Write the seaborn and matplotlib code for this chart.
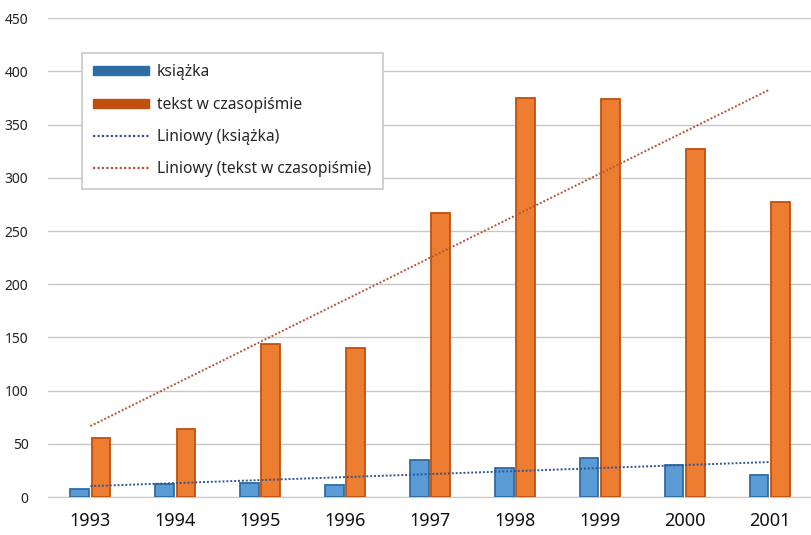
import matplotlib.pyplot as plt
import numpy as np
import pandas as pd
import seaborn as sns
from matplotlib.lines import Line2D
from matplotlib.patches import Patch

# Data
years = ['1993', '1994', '1995', '1996', '1997', '1998', '1999', '2000', '2001']
ksiazka = [8, 12, 13, 11, 35, 27, 37, 30, 21]
tekst = [55, 64, 144, 140, 267, 375, 374, 327, 277]
series_names = ['książka', 'tekst w czasopiśmie']

df = pd.DataFrame({
    'year': years * 2,
    'value': ksiazka + tekst,
    'series': [series_names[0]] * len(years) + [series_names[1]] * len(years),
})

blue, blue_edge, blue_trend = '#5B9BD5', '#2E6DA4', '#2F5597'
orange, orange_edge, orange_trend = '#ED7D31', '#C0500F', '#B5553A'

sns.set_style('white')
plt.rcParams['font.family'] = ['Noto Sans', 'DejaVu Sans']

fig = plt.figure(figsize=(8.12, 5.35), dpi=100)
ax = fig.add_axes([0.059, 0.071, 0.941, 0.895])

sns.barplot(data=df, x='year', y='value', hue='series', palette=[blue, orange],
            saturation=1, width=0.5, gap=0.12, ax=ax, legend=False, zorder=3)
for bar, fc in zip(ax.patches, [blue_edge] * 9 + [orange_edge] * 9):
    bar.set_edgecolor(fc)
    bar.set_linewidth(1.3)

# linear trend lines (like Excel "Liniowy")
x = np.arange(len(years))
for vals, col in [(ksiazka, blue_trend), (tekst, orange_trend)]:
    k, b = np.polyfit(x + 1, vals, 1)
    ax.plot(x, k * (x + 1) + b, linestyle=(0, (1, 1)), color=col, lw=1.4, zorder=4)

ax.set_ylim(0, 450)
ax.set_xlim(-0.5, len(years) - 0.5)
ax.set_yticks(range(0, 451, 50))
ax.yaxis.grid(True, color='#C8C8C8', lw=1)
ax.set_axisbelow(True)
sns.despine(ax=ax, left=True, top=True, right=True)
ax.spines['bottom'].set_color('#C8C8C8')
ax.tick_params(axis='y', labelsize=10, length=0, pad=14, colors='#222222')
ax.tick_params(axis='x', labelsize=13, length=0, pad=11, colors='#111111')
ax.set_xlabel('')
ax.set_ylabel('')

handles = [
    Patch(facecolor='#2E6DA4', edgecolor='#2E6DA4'),
    Patch(facecolor='#C0500F', edgecolor='#C0500F'),
    Line2D([0], [0], color=blue_trend, linestyle=(0, (1, 1)), lw=1.6),
    Line2D([0], [0], color=orange_trend, linestyle=(0, (1, 1)), lw=1.6),
]
labels = ['książka', 'tekst w czasopiśmie', 'Liniowy (książka)', 'Liniowy (tekst w czasopiśmie)']
leg = ax.legend(handles, labels, loc='upper left', bbox_to_anchor=(0.044, 0.928),
                frameon=True, fancybox=False, fontsize=11.2, labelspacing=1.05,
                handlelength=3.6, handleheight=0.5, handletextpad=0.5,
                borderpad=0.75, borderaxespad=0)
leg.get_frame().set_edgecolor('#C8C8C8')
leg.get_frame().set_linewidth(1.2)
leg.get_frame().set_facecolor('white')
leg.get_frame().set_alpha(1)

fig.savefig('out.png', dpi=100)
